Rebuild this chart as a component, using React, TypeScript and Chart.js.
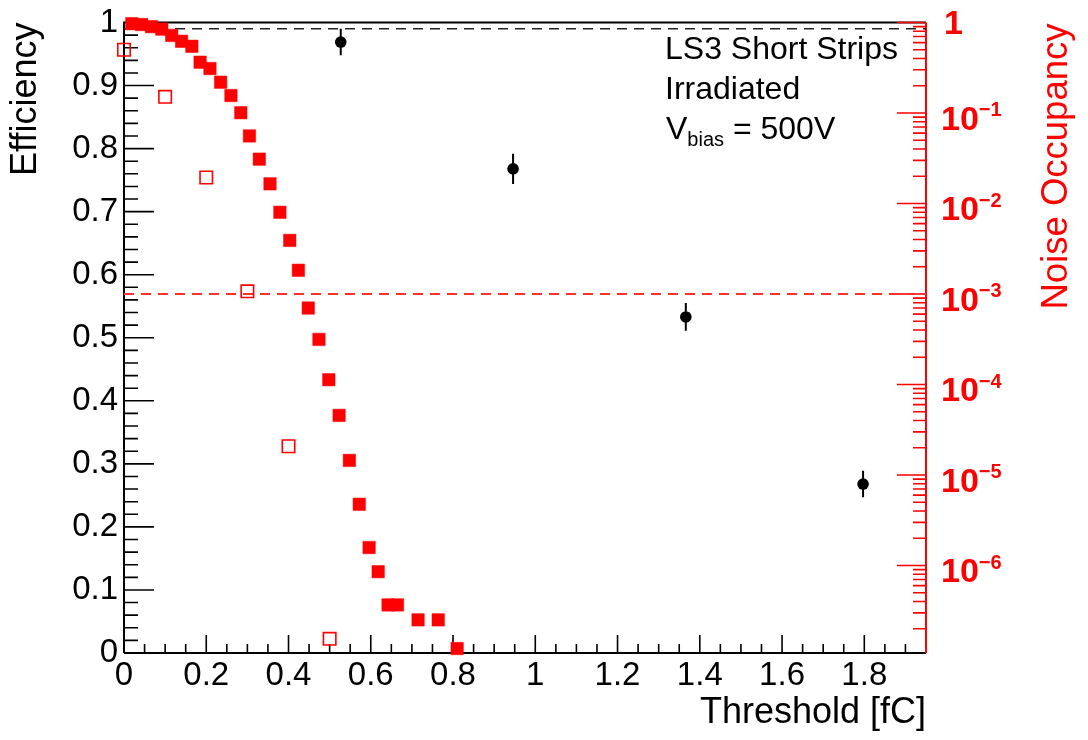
import React, { useEffect, useRef } from 'react';
import { Chart, registerables } from 'chart.js';

Chart.register(...registerables);

const FONT = '"Liberation Sans", Arial, Helvetica, sans-serif';

// Noise occupancy vs threshold (filled red squares, right log axis)
const noiseThreshold = [0.019, 0.043, 0.067, 0.092, 0.116, 0.140, 0.165, 0.185, 0.209, 0.235, 0.260, 0.284, 0.305, 0.329, 0.355, 0.379, 0.403, 0.424, 0.448, 0.474, 0.498, 0.523, 0.548, 0.572, 0.596, 0.618, 0.642, 0.665, 0.715, 0.764, 0.810];
const noiseOccupancy = [0.97, 0.95, 0.90, 0.845, 0.72, 0.62, 0.546, 0.364, 0.31, 0.219, 0.156, 0.1007, 0.0558, 0.0309, 0.0165, 0.008, 0.00391, 0.00183, 7.0e-4, 3.15e-4, 1.13e-4, 4.56e-5, 1.45e-5, 4.75e-6, 1.58e-6, 8.55e-7, 3.67e-7, 3.67e-7, 2.51e-7, 2.51e-7, 1.21e-7];

// Second noise scan (open red squares, right log axis)
const openThreshold = [0, 0.1, 0.2, 0.3, 0.4, 0.5];
const openOccupancy = [0.50, 0.151, 0.0194, 1.07e-3, 2.08e-5, 1.55e-7];

// Efficiency (black points with errors, left axis)
const effThreshold = [0.527, 0.946, 1.366, 1.797];
const efficiency = [0.969, 0.768, 0.533, 0.268];
const efficiencyErr = [0.021, 0.024, 0.022, 0.021];

// Axes
const xTickValues = [0, 0.2, 0.4, 0.6, 0.8, 1.0, 1.2, 1.4, 1.6, 1.8];
const effTickValues = [0, 0.1, 0.2, 0.3, 0.4, 0.5, 0.6, 0.7, 0.8, 0.9, 1.0];
const occDecades = [0, -1, -2, -3, -4, -5, -6];
const X_MIN = 0;
const X_MAX = 1.95;
const OCC_MIN = 1.08e-7;
const OCC_MAX = 1;

// Reference lines
const effTarget = 0.99;
const occTarget = 1e-3;

const annotationLines = ['LS3 Short Strips', 'Irradiated'];
const biasLabel = { main: 'V', sub: 'bias', rest: ' = 500V' };

const rootStylePlugin = {
  id: 'rootStyle',
  beforeDatasetsDraw(chart: any) {
    const { ctx, chartArea: ca, scales } = chart;
    const x = scales.x, y = scales.y, y2 = scales.y2;
    ctx.save();
    ctx.lineCap = 'butt';
    // ticks on x axis (inward)
    ctx.strokeStyle = '#000';
    ctx.lineWidth = 1.6;
    ctx.beginPath();
    for (let i = 0; i * 0.05 <= X_MAX + 1e-9; i++) {
      const v = i * 0.05;
      const px = x.getPixelForValue(v);
      const len = i % 4 === 0 ? 18 : 9;
      ctx.moveTo(px, ca.bottom);
      ctx.lineTo(px, ca.bottom - len);
    }
    // ticks on left y axis
    for (let i = 0; i <= 50; i++) {
      const v = i * 0.02;
      const py = y.getPixelForValue(v);
      const len = i % 5 === 0 ? 30 : 14;
      ctx.moveTo(ca.left, py);
      ctx.lineTo(ca.left + len, py);
    }
    ctx.stroke();
    // frame (top, left, bottom)
    ctx.lineWidth = 2;
    ctx.beginPath();
    ctx.moveTo(ca.left, ca.bottom);
    ctx.lineTo(ca.left, ca.top);
    ctx.lineTo(ca.right, ca.top);
    ctx.moveTo(ca.left, ca.bottom);
    ctx.lineTo(ca.right, ca.bottom);
    ctx.stroke();
    // right log axis ticks (red)
    ctx.strokeStyle = '#ff0000';
    ctx.lineWidth = 1.6;
    ctx.beginPath();
    for (let k = -7; k <= 0; k++) {
      for (let m = 1; m <= 9; m++) {
        const v = m * Math.pow(10, k);
        if (v < OCC_MIN * 0.999 || v > OCC_MAX * 1.001) continue;
        const py = y2.getPixelForValue(v);
        const len = m === 1 ? 29 : 13;
        ctx.moveTo(ca.right, py);
        ctx.lineTo(ca.right - len, py);
      }
    }
    ctx.stroke();
    ctx.lineWidth = 2;
    ctx.beginPath();
    ctx.moveTo(ca.right, ca.top);
    ctx.lineTo(ca.right, ca.bottom);
    ctx.stroke();
    // efficiency error bars
    ctx.strokeStyle = '#000';
    ctx.lineWidth = 2;
    ctx.beginPath();
    effThreshold.forEach((t, i) => {
      const px = x.getPixelForValue(t);
      ctx.moveTo(px, y.getPixelForValue(efficiency[i] - efficiencyErr[i]));
      ctx.lineTo(px, y.getPixelForValue(efficiency[i] + efficiencyErr[i]));
    });
    ctx.stroke();
    ctx.restore();
  },
  afterDraw(chart: any) {
    const { ctx, chartArea: ca, scales } = chart;
    const y2 = scales.y2;
    ctx.save();
    // right axis labels with superscript exponents
    ctx.fillStyle = '#ff0000';
    ctx.textBaseline = 'alphabetic';
    ctx.textAlign = 'left';
    occDecades.forEach((k) => {
      const py = y2.getPixelForValue(Math.pow(10, k));
      if (k === 0) {
        ctx.font = `bold 34px ${FONT}`;
        ctx.fillText('1', 944, py + 11);
      } else {
        ctx.font = `bold 34px ${FONT}`;
        const base = '10';
        ctx.fillText(base, 941, py + 16.5);
        const w = ctx.measureText(base).width;
        ctx.font = `bold 20px ${FONT}`;
        ctx.fillText('\u2212' + String(-k), 941 + w, py + 3);
      }
    });
    // right axis title (reads bottom to top)
    ctx.font = `36.5px ${FONT}`;
    ctx.fillStyle = '#ff0000';
    ctx.save();
    ctx.translate(1057, ca.top + 1);
    ctx.rotate(-Math.PI / 2);
    ctx.textAlign = 'right';
    ctx.textBaseline = 'middle';
    ctx.fillText('Noise Occupancy', 0, 0);
    ctx.restore();
    // annotation
    ctx.fillStyle = '#000';
    ctx.textAlign = 'left';
    ctx.textBaseline = 'alphabetic';
    ctx.font = `32px ${FONT}`;
    ctx.fillText(annotationLines[0], 665, 59);
    ctx.fillText(annotationLines[1], 665, 99);
    let bx = 666;
    ctx.fillText(biasLabel.main, bx, 138.5);
    bx += ctx.measureText(biasLabel.main).width;
    ctx.font = `20px ${FONT}`;
    ctx.fillText(biasLabel.sub, bx, 146);
    bx += ctx.measureText(biasLabel.sub).width;
    ctx.font = `32px ${FONT}`;
    ctx.fillText(biasLabel.rest, bx, 138.5);
    ctx.restore();
  },
};

export default function App() {
  const ref = useRef<HTMLCanvasElement>(null);
  useEffect(() => {
    const canvas = ref.current;
    if (!canvas) return;
    const chart = new Chart(canvas, {
      type: 'scatter',
      data: {
        datasets: [
          {
            label: 'Efficiency',
            data: effThreshold.map((t, i) => ({ x: t, y: efficiency[i] })),
            yAxisID: 'y',
            pointStyle: 'circle',
            pointRadius: 5.8,
            backgroundColor: '#000',
            borderColor: '#000',
            borderWidth: 0,
            clip: false,
          },
          {
            label: 'Noise occupancy',
            data: noiseThreshold.map((t, i) => ({ x: t, y: noiseOccupancy[i] })),
            yAxisID: 'y2',
            pointStyle: 'rect',
            pointRadius: 8.8,
            backgroundColor: '#ff0000',
            borderColor: '#ff0000',
            borderWidth: 0.5,
            clip: false,
          },
          {
            label: 'Noise occupancy (open)',
            data: openThreshold.map((t, i) => ({ x: t, y: openOccupancy[i] })),
            yAxisID: 'y2',
            pointStyle: 'rect',
            pointRadius: 8.8,
            backgroundColor: 'rgba(0,0,0,0)',
            borderColor: '#ff0000',
            borderWidth: 1.6,
            clip: false,
          },
          {
            label: 'Efficiency target',
            data: [{ x: X_MIN, y: effTarget }, { x: X_MAX, y: effTarget }],
            yAxisID: 'y',
            showLine: true,
            pointRadius: 0,
            borderColor: '#222',
            borderWidth: 1.6,
            borderDash: [10, 7],
          },
          {
            label: 'Occupancy target',
            data: [{ x: X_MIN, y: occTarget }, { x: X_MAX, y: occTarget }],
            yAxisID: 'y2',
            showLine: true,
            pointRadius: 0,
            borderColor: '#ff3030',
            borderWidth: 1.8,
            borderDash: [10, 7],
          },
        ],
      },
      options: {
        animation: false,
        responsive: false,
        devicePixelRatio: 1,
        layout: { padding: { top: 19, left: 0, right: 0, bottom: 0 } },
        plugins: { legend: { display: false }, tooltip: { enabled: false } },
        events: [],
        scales: {
          x: {
            type: 'linear',
            position: 'bottom',
            min: X_MIN,
            max: X_MAX,
            grid: { display: false, drawTicks: false },
            border: { display: false },
            afterBuildTicks: (s: any) => {
              s.ticks = xTickValues.map((v) => ({ value: v }));
            },
            afterFit: (s: any) => {
              s.height = 87;
            },
            ticks: {
              autoSkip: false,
              maxRotation: 0,
              padding: 3,
              color: '#000',
              font: { family: FONT, size: 33 },
              callback: (v: any) => String(Number(Number(v).toFixed(1))),
            },
            title: {
              display: true,
              text: 'Threshold [fC]',
              align: 'end',
              color: '#000',
              font: { family: FONT, size: 36 },
              padding: { top: 0, bottom: 5 },
            },
          },
          y: {
            type: 'linear',
            position: 'left',
            min: 0,
            max: 1,
            grid: { display: false, drawTicks: false },
            border: { display: false },
            afterBuildTicks: (s: any) => {
              s.ticks = effTickValues.map((v) => ({ value: v }));
            },
            afterFit: (s: any) => {
              s.width = 124;
            },
            ticks: {
              autoSkip: false,
              padding: 6,
              color: '#000',
              font: { family: FONT, size: 33, lineHeight: 1 },
              callback: (v: any) => String(Number(Number(v).toFixed(1))),
            },
            title: {
              display: true,
              text: 'Efficiency',
              align: 'end',
              color: '#000',
              font: { family: FONT, size: 36 },
              padding: { top: 4, bottom: 0 },
            },
          },
          y2: {
            type: 'logarithmic',
            position: 'right',
            min: OCC_MIN,
            max: OCC_MAX,
            bounds: 'data',
            grid: { display: false, drawTicks: false },
            border: { display: false },
            afterFit: (s: any) => {
              s.width = 162;
            },
            ticks: { display: false },
          },
        },
      },
      plugins: [rootStylePlugin],
    } as any);
    return () => chart.destroy();
  }, []);
  return (
    <div style={{ position: 'absolute', left: 0, top: 0, width: 1088, height: 740, background: '#fff' }}>
      <canvas ref={ref} width={1088} height={740} style={{ display: 'block', width: 1088, height: 740 }} />
    </div>
  );
}
